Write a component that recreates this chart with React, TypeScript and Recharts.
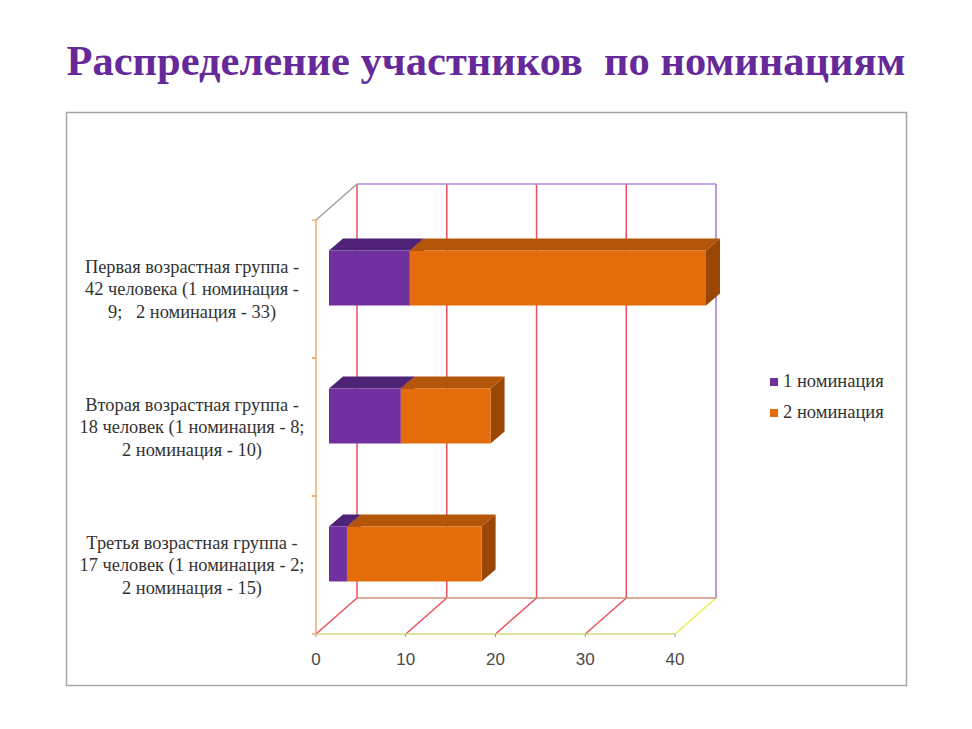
import React from 'react';
import { BarChart, Bar, XAxis, YAxis, CartesianGrid, Legend } from 'recharts';

const TITLE = 'Распределение участников  по номинациям';
const CATEGORY_LINES: string[][] = [
  ['Первая возрастная группа -', '42 человека (1 номинация -', '9;   2 номинация - 33)'],
  ['Вторая возрастная группа -', '18 человек (1 номинация - 8;', '2 номинация - 10)'],
  ['Третья возрастная группа -', '17 человек (1 номинация - 2;', '2 номинация - 15)'],
];
const NOM1 = [9, 8, 2];
const NOM2 = [33, 10, 15];
const SERIES_NAMES = ['1 номинация', '2 номинация'];
const X_TICKS = [0, 10, 20, 30, 40];

const data = CATEGORY_LINES.map((lines, i) => ({
  name: lines.join('\n'),
  n1: NOM1[i],
  n2: NOM2[i],
}));

// 3D projection (full depth of the box)
const DX = 41;
const DY = -36;
// bar placement within the depth
const BAR_OFF_X = 13;
const BAR_OFF_Y = -11.5;
const BAR_DEPTH_X = 14;
const BAR_DEPTH_Y = -12;

const PURPLE = { front: '#7030A0', top: '#4E2277', side: '#43196A' };
const ORANGE = { front: '#E46C0A', top: '#B3560A', side: '#9A4706' };
const SERIF = '"Liberation Serif", "Times New Roman", serif';
const SANS = '"Liberation Sans", Arial, sans-serif';
const LABEL_SIZE = 18.4;

const make3D = (c: { front: string; top: string; side: string }) => (props: any) => {
  const { x, y, width, height } = props;
  if (!width || !height) return <g />;
  const fx = x + BAR_OFF_X;
  const fy = y + BAR_OFF_Y;
  const r = fx + width;
  const b = fy + height;
  return (
    <g>
      <polygon
        points={`${r},${fy} ${r + BAR_DEPTH_X},${fy + BAR_DEPTH_Y} ${r + BAR_DEPTH_X},${b + BAR_DEPTH_Y} ${r},${b}`}
        fill={c.side}
      />
      <polygon
        points={`${fx},${fy} ${r},${fy} ${r + BAR_DEPTH_X},${fy + BAR_DEPTH_Y} ${fx + BAR_DEPTH_X},${fy + BAR_DEPTH_Y}`}
        fill={c.top}
      />
      <rect x={fx} y={fy} width={width} height={height} fill={c.front} />
    </g>
  );
};

let firstGridX = 0;
const renderGridLine = (props: any) => {
  const { x1, y1, y2, index, verticalPoints } = props;
  const pts: number[] | undefined = verticalPoints;
  const count = pts && pts.length ? pts.length : X_TICKS.length;
  const last = index === count - 1;
  if (index === 0) firstGridX = x1;
  const x0 = pts && pts.length ? pts[0] : firstGridX;
  const xl = pts && pts.length ? pts[pts.length - 1] : x1;
  const els: React.ReactNode[] = [];
  els.push(
    <line key="bv" x1={x1 + DX} y1={y1 + DY} x2={x1 + DX} y2={y2 + DY}
      stroke={last ? '#A47AD8' : '#E8505E'} strokeWidth={1.5} />
  );
  els.push(
    <line key="fd" x1={x1} y1={y2} x2={x1 + DX} y2={y2 + DY}
      stroke={last ? '#EAF050' : '#E8505E'} strokeWidth={1.5} />
  );
  if (last) {
    els.push(<line key="bt" x1={x0 + DX} y1={y1 + DY} x2={xl + DX} y2={y1 + DY} stroke="#B088E0" strokeWidth={1.5} />);
    els.push(<line key="bb" x1={x0 + DX} y1={y2 + DY} x2={xl + DX} y2={y2 + DY} stroke="#D08C7C" strokeWidth={1.5} />);
    els.push(<line key="tl" x1={x0} y1={y1} x2={x0 + DX} y2={y1 + DY} stroke="#A0A0A0" strokeWidth={1.5} />);
    els.push(<line key="ff" x1={x0} y1={y2} x2={xl} y2={y2} stroke="#D6DA7A" strokeWidth={1.5} />);
  }
  return <g key={`grid-${index}`}>{els}</g>;
};

const YTick = (props: any) => {
  const { x, y, payload } = props;
  const lines = String(payload.value).split('\n');
  const half = typeof payload.offset === 'number' && payload.offset > 0 ? payload.offset : 69;
  const LH = 22.5;
  const cx = x - 124;
  return (
    <g>
      <line x1={x - 4} x2={x} y1={y - half} y2={y - half} stroke="#F0A868" strokeWidth={1.5} />
      <line x1={x - 4} x2={x} y1={y + half} y2={y + half} stroke="#F0A868" strokeWidth={1.5} />
      <text x={cx} y={y} textAnchor="middle" fontFamily={SERIF} fontSize={LABEL_SIZE} fill="#333333" style={{ whiteSpace: 'pre' }}>
        {lines.map((l, i) => (
          <tspan key={i} x={cx} dy={i === 0 ? -((lines.length - 1) / 2) * LH + 6 : LH}>
            {l}
          </tspan>
        ))}
      </text>
    </g>
  );
};

const LegendContent = () => (
  <div style={{ fontFamily: SERIF, fontSize: 18.5, color: '#333333', lineHeight: '31px' }}>
    {SERIES_NAMES.map((n, i) => (
      <div key={n} style={{ display: 'flex', alignItems: 'center', height: 31 }}>
        <span style={{ width: 8, height: 8, background: i === 0 ? PURPLE.front : ORANGE.front, marginRight: 5, display: 'inline-block' }} />
        <span>{n}</span>
      </div>
    ))}
  </div>
);

export default function App() {
  return (
    <div style={{ position: 'absolute', left: 0, top: 0, width: 972, height: 729, background: '#ffffff' }}>
      <svg width={972} height={729} style={{ position: 'absolute', left: 0, top: 0 }}>
        <text x={486} y={75} textAnchor="middle" fontFamily={SERIF} fontWeight="bold" fontSize={42.5} fill="#65299A" style={{ whiteSpace: 'pre' }}>
          {TITLE}
        </text>
        <rect x={66.5} y={112.5} width={840} height={573} fill="none" stroke="#A6A6A6" strokeWidth={1.5} />
      </svg>
      <div style={{ position: 'absolute', left: 0, top: 0 }}>
        <BarChart
          width={972}
          height={729}
          layout="vertical"
          data={data}
          margin={{ top: 220, right: 279, bottom: 65, left: 66 }}
          barSize={55}
        >
          <CartesianGrid horizontal={false} vertical={renderGridLine} syncWithTicks />
          <XAxis
            type="number"
            domain={[0, 'dataMax']}
            ticks={X_TICKS}
            interval={0}
            axisLine={false}
            tickLine={{ stroke: '#999999' }}
            tickSize={3}
            tickMargin={16}
            height={30}
            tick={{ fill: '#4A4A4A', fontSize: 17, fontFamily: SANS }}
          />
          <YAxis
            type="category"
            dataKey="name"
            width={250}
            interval={0}
            axisLine={{ stroke: '#F0A868', strokeWidth: 1.5 }}
            tickLine={false}
            tickSize={0}
            tickMargin={0}
            tick={<YTick />}
          />
          <Bar dataKey="n1" name={SERIES_NAMES[0]} stackId="a" fill={PURPLE.front} shape={make3D(PURPLE)} isAnimationActive={false} />
          <Bar dataKey="n2" name={SERIES_NAMES[1]} stackId="a" fill={ORANGE.front} shape={make3D(ORANGE)} isAnimationActive={false} />
          <Legend
            layout="vertical"
            align="center"
            verticalAlign="middle"
            wrapperStyle={{ left: 770, top: 366, width: 140 }}
            content={<LegendContent />}
          />
        </BarChart>
      </div>
    </div>
  );
}
